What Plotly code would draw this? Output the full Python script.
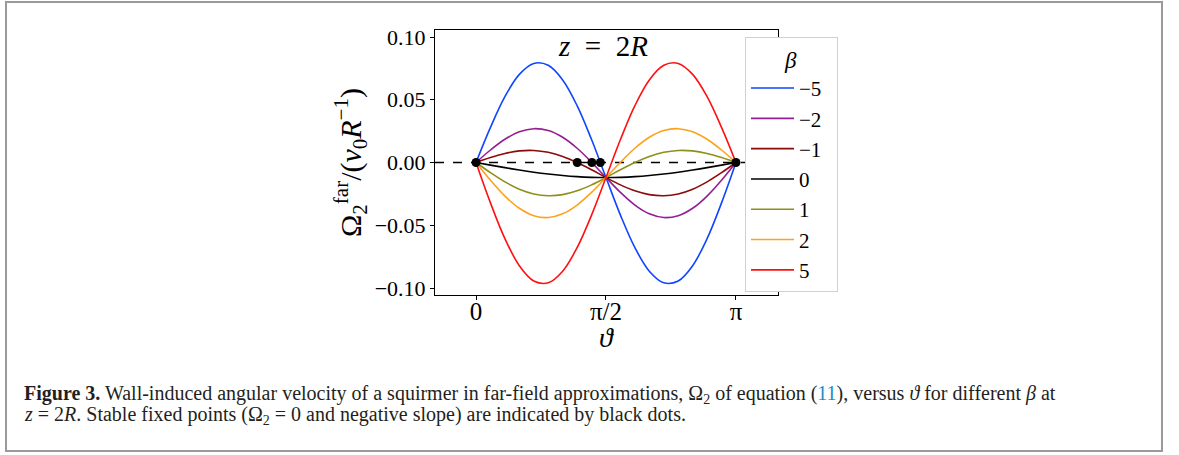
import plotly.graph_objects as go

# ---- data ----
theta_deg = [0, 10, 20, 30, 40, 50, 60, 70, 80, 90, 100, 110, 120, 130, 140, 150, 160, 170, 180]

beta_labels = ["\u22125", "\u22122", "\u22121", "0", "1", "2", "5"]

omega_beta_m5 = [0, 0.02801, 0.05246, 0.07021, 0.07895, 0.07747, 0.06582, 0.04529, 0.01828, -0.0120,
                 -0.04192, -0.06784, -0.08660, -0.09585, -0.09438, -0.08221, -0.06067, -0.03218, 0]
omega_beta_m2 = [0, 0.00996, 0.01852, 0.02448, 0.02695, 0.02547, 0.02009, 0.01135, 0.00022, -0.0120,
                 -0.02386, -0.03390, -0.04088, -0.04386, -0.04238, -0.03648, -0.02673, -0.01412, 0]
omega_beta_m1 = [0, 0.00394, 0.00721, 0.00924, 0.00962, 0.00814, 0.00485, 0.00004, -0.00580, -0.0120,
                 -0.01784, -0.02259, -0.02563, -0.02652, -0.02505, -0.02124, -0.01542, -0.00810, 0]
omega_beta_0 = [0, -0.00208, -0.00410, -0.00600, -0.00771, -0.00919, -0.01039, -0.01128, -0.01182, -0.0120,
                -0.01182, -0.01128, -0.01039, -0.00919, -0.00771, -0.00600, -0.00410, -0.00208, 0]
omega_beta_p1 = [0, -0.00810, -0.01542, -0.02124, -0.02505, -0.02652, -0.02563, -0.02259, -0.01784, -0.0120,
                 -0.00580, 0.00004, 0.00485, 0.00814, 0.00962, 0.00924, 0.00721, 0.00394, 0]
omega_beta_p2 = [0, -0.01412, -0.02673, -0.03648, -0.04238, -0.04386, -0.04088, -0.03390, -0.02386, -0.0120,
                 0.00022, 0.01135, 0.02009, 0.02547, 0.02695, 0.02448, 0.01852, 0.00996, 0]
omega_beta_p5 = [0, -0.03218, -0.06067, -0.08221, -0.09438, -0.09585, -0.08660, -0.06784, -0.04192, -0.0120,
                 0.01828, 0.04529, 0.06582, 0.07747, 0.07895, 0.07021, 0.05246, 0.02801, 0]

series = [omega_beta_m5, omega_beta_m2, omega_beta_m1, omega_beta_0,
          omega_beta_p1, omega_beta_p2, omega_beta_p5]

fixed_theta_deg = [0, 70.1, 80.2, 86.1, 180]
fixed_omega = [0, 0, 0, 0, 0]

x_tickvals = [0, 90, 180]
x_ticktext = ["0", "\u03c0/2", "\u03c0"]
y_tickvals = [-0.10, -0.05, 0.0, 0.05, 0.10]
y_ticktext = ["\u22120.10", "\u22120.05", "0.00", "0.05", "0.10"]

colors = ["#0f45ff", "#941f94", "#8b0a0a", "#000000", "#8f8f1a", "#ffa21a", "#ff1010"]

# ---- layout geometry (pixels) ----
W, H = 1179, 455
L, R, T, B = 435, 778, 30, 295


def px(xpix):
    return (xpix - L) / (R - L)


def py(ypix):
    return 1 - (ypix - T) / (B - T)


serif = "Liberation Serif"
pad = "\u00a0\u00a0"

fig = go.Figure()
for vals, lab, col in zip(series, beta_labels, colors):
    fig.add_trace(go.Scatter(
        x=theta_deg, y=vals, mode="lines", name=lab + pad,
        line=dict(color=col, width=1.6, shape="spline", smoothing=1.0),
    ))

fig.add_trace(go.Scatter(
    x=fixed_theta_deg, y=fixed_omega, mode="markers", showlegend=False,
    marker=dict(color="black", size=9),
))

fig.add_shape(type="line", xref="paper", x0=0, x1=1, yref="y", y0=0, y1=0,
              line=dict(color="black", width=1.5, dash="dash"), layer="below")

# figure frame
fig.add_shape(type="rect", xref="paper", yref="paper",
              x0=px(6), x1=px(1162), y0=py(451), y1=py(2),
              line=dict(color="#9a9a9a", width=2), layer="below")

fig.add_annotation(text="<i>z</i>\u2002=\u20022<i>R</i>", xref="paper", yref="paper",
                   x=px(603), y=py(46), showarrow=False,
                   font=dict(family=serif, size=29, color="black"),
                   xanchor="center", yanchor="middle")

# x-axis title
fig.add_annotation(text="<i>\u03d1</i>", xref="paper", yref="paper",
                   x=px(606), y=py(337), showarrow=False,
                   font=dict(family=serif, size=28, color="black"),
                   xanchor="center", yanchor="middle")

cap_font = dict(family=serif, size=20, color="#231f20")
fig.add_annotation(
    text="<b>Figure 3.</b> Wall-induced angular velocity of a squirmer in far-field approximations, "
         "\u03a9<sub>2</sub> of equation (<span style='color:#1a8ac4'>11</span>), versus <i>\u03d1</i> "
         "for different <i>\u03b2</i> at",
    xref="paper", yref="paper", x=px(22), y=py(394), showarrow=False,
    xanchor="left", yanchor="middle", font=cap_font)
fig.add_annotation(
    text="<i>z</i> = 2<i>R</i>. Stable fixed points (\u03a9<sub>2</sub> = 0 and negative slope) "
         "are indicated by black dots.",
    xref="paper", yref="paper", x=px(22), y=py(415.5), showarrow=False,
    xanchor="left", yanchor="middle", font=cap_font)

fig.update_layout(
    width=W, height=H,
    margin=dict(l=L, r=W - R, t=T, b=H - B, pad=0),
    paper_bgcolor="white", plot_bgcolor="white",
    showlegend=True,
    legend=dict(
        x=px(745), y=py(37), xanchor="left", yanchor="top",
        bgcolor="white", bordercolor="#d0d0d0", borderwidth=1,
        font=dict(family=serif, size=21, color="black"),
        title=dict(text="<i>\u03b2</i>", side="top center",
                   font=dict(family=serif, size=23, color="black")),
        itemwidth=43,
    ),
    xaxis=dict(
        range=[-28.4, 209.1], tickvals=x_tickvals, ticktext=x_ticktext,
        showgrid=False, zeroline=False, showline=True, mirror=True,
        linecolor="black", linewidth=1, ticks="outside", ticklen=4, tickcolor="black",
        tickfont=dict(family=serif, size=25, color="black"),
        ticklabelstandoff=-10,
    ),
    yaxis=dict(
        range=[-0.10558, 0.10558], tickvals=y_tickvals, ticktext=y_ticktext,
        showgrid=False, zeroline=False, showline=True, mirror=True,
        linecolor="black", linewidth=1, ticks="outside", ticklen=4, tickcolor="black",
        tickfont=dict(family=serif, size=22, color="black"),
        title=dict(text="\u03a9<sub>2</sub><sup>far</sup>/(<i>v</i><sub>0</sub><i>R</i><sup>\u22121</sup>)",
                   font=dict(family=serif, size=30, color="black"), standoff=4),
    ),
)

fig.write_html("out.html", config={"displayModeBar": False},
               post_script="document.body.style.margin='0';document.body.style.overflow='hidden';")
